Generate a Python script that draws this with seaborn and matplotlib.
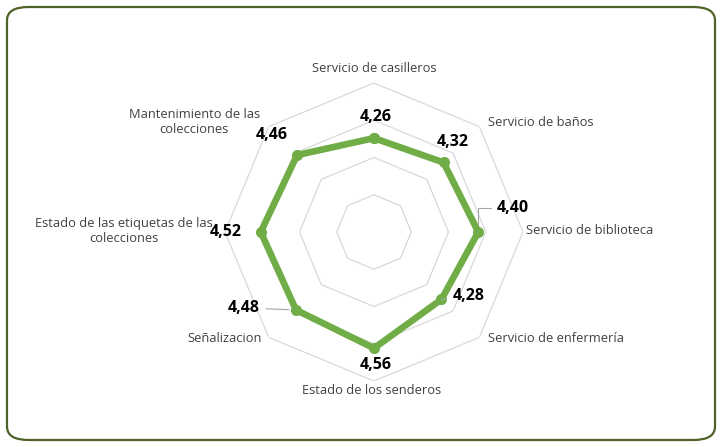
import numpy as np
import pandas as pd
import matplotlib
matplotlib.use("Agg")
import matplotlib.pyplot as plt
from matplotlib.patches import FancyBboxPatch
import seaborn as sns

categorias = ["Servicio de casilleros", "Servicio de baños", "Servicio de biblioteca",
              "Servicio de enfermería", "Estado de los senderos", "Señalizacion",
              "Estado de las etiquetas de las\ncolecciones", "Mantenimiento de las\ncolecciones"]
valores = [4.26, 4.32, 4.40, 4.28, 4.56, 4.48, 4.52, 4.46]
etiquetas = ["4,26", "4,32", "4,40", "4,28", "4,56", "4,48", "4,52", "4,46"]
anillos = [3.5, 4.0, 4.5, 5.0]
r_min, r_max = 3.0, 5.0

verde = "#70AD47"
gris = "#D9D9D9"

sns.set_theme(style="white")
plt.rcParams["font.family"] = ["Open Sans", "DejaVu Sans"]

fig = plt.figure(figsize=(7.23, 4.47), dpi=100)
fig.patch.set_facecolor("white")

# marco redondeado
marco = FancyBboxPatch((7 / 723, 7 / 447), 708 / 723, 433 / 447,
                       boxstyle="round,pad=0,rounding_size=0.03",
                       transform=fig.transFigure, facecolor="none",
                       edgecolor="#4F6228", linewidth=1.6)
fig.patches.append(marco)

ax = fig.add_axes([225 / 723, (447 - 232 - 149) / 447, 298 / 723, 298 / 447],
                  projection="polar")
ax.set_theta_zero_location("N")
ax.set_theta_direction(-1)
ax.set_ylim(r_min, r_max)
ax.grid(False)
ax.spines["polar"].set_visible(False)
ax.set_xticks([])
ax.set_yticks([])
ax.set_facecolor("none")

n = len(categorias)
angulos = np.arange(n) * 2 * np.pi / n
cerrado = np.append(angulos, 2 * np.pi)

# rejilla octogonal
for r in anillos:
    ax.plot(cerrado, [r] * (n + 1), color=gris, lw=0.9, zorder=1)

df = pd.DataFrame({"angulo": cerrado, "valor": valores + [valores[0]]})
sns.lineplot(data=df, x="angulo", y="valor", sort=False, estimator=None, ax=ax,
             color=verde, lw=4.8, marker="o", markersize=8, markeredgewidth=0, zorder=3)
ax.set_xlabel("")
ax.set_ylabel("")
ax.set_ylim(r_min, r_max)

# etiquetas de categorias (offset en pixeles desde el vertice exterior)
pos_cat = [((0, 15), "center", "center"), ((9, 4), "left", "center"),
           ((3, 2), "left", "center"), ((9, -1), "left", "center"),
           ((-2, -9), "center", "center"), ((-7, -1), "right", "center"),
           ((-12, 1), "right", "center"), ((-9, 5), "right", "center")]
for a, txt, (off, ha, va) in zip(angulos, categorias, pos_cat):
    ax.annotate(txt, xy=(a, r_max), xytext=off, textcoords="offset pixels",
                ha=ha, va=va, multialignment="center", fontsize=9.3,
                color="#404040", annotation_clip=False)

# etiquetas de datos
pos_dat = [(2, 21), (9, 20), (35, 24), (27, 3), (2, -17), (-52, 2), (-35, 0), (-25, 20)]
conector = [None, None, "angle,angleA=0,angleB=90", "arc3", None, "arc3", None, None]
for a, v, txt, off, cs in zip(angulos, valores, etiquetas, pos_dat, conector):
    props = None
    if cs:
        props = dict(arrowstyle="-", color="#A6A6A6", lw=0.8, shrinkA=2, shrinkB=5,
                     connectionstyle=cs)
    ax.annotate(txt, xy=(a, v), xytext=off, textcoords="offset pixels",
                ha="center", va="center", fontsize=11.5, fontweight="bold",
                color="black", arrowprops=props, annotation_clip=False, zorder=4)

fig.savefig("out.png", dpi=100, facecolor="white")
